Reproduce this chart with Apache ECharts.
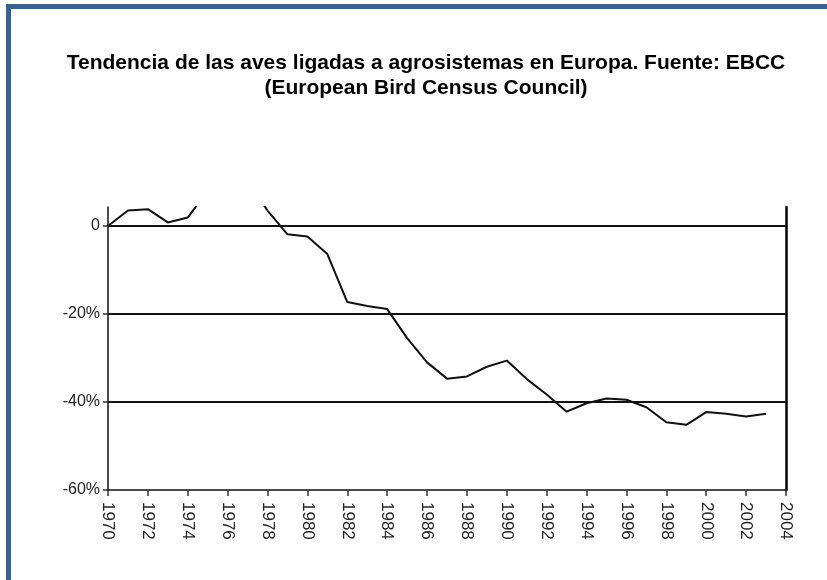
<!DOCTYPE html>
<html>
<head>
<meta charset="utf-8">
<script src="https://cdn.jsdelivr.net/npm/echarts@6/dist/echarts.min.js"></script>
<style>
  html, body { margin: 0; padding: 0; background: #fff; overflow: hidden; }
  #frame {
    position: absolute; left: 6px; top: 4px; width: 900px; height: 700px;
    border-top: 5px solid #3b6192; border-left: 5px solid #3b6192;
  }
  #chart { position: absolute; left: 0; top: 0; width: 827px; height: 580px; }
</style>
</head>
<body>
<div id="frame"></div>
<div id="chart"></div>
<script>
const titleText = 'Tendencia de las aves ligadas a agrosistemas en Europa. Fuente: EBCC\n(European Bird Census Council)';

const years = [
  1970, 1971, 1972, 1973, 1974, 1975, 1976, 1977, 1978, 1979,
  1980, 1981, 1982, 1983, 1984, 1985, 1986, 1987, 1988, 1989,
  1990, 1991, 1992, 1993, 1994, 1995, 1996, 1997, 1998, 1999,
  2000, 2001, 2002, 2003
];

// % change relative to 1970
const trend = [
  0, 3.5, 3.8, 0.8, 1.9, 8, 11, 10, 3.5, -1.9,
  -2.4, -6.4, -17.3, -18.2, -18.9, -25.5, -31, -34.7, -34.2, -32,
  -30.6, -34.8, -38.3, -42.2, -40.3, -39.2, -39.5, -41.2, -44.6, -45.2,
  -42.3, -42.7, -43.3, -42.7
];

const gridValues = [0, -20, -40];
const yTickValues = [-60, -40, -20, 0];

const chart = echarts.init(document.getElementById('chart'));

chart.setOption({
  backgroundColor: 'transparent',
  animation: false,
  title: {
    text: titleText,
    left: 421,
    top: 46,
    textAlign: 'center',
    textStyle: {
      fontFamily: 'Liberation Sans, Arial, sans-serif',
      fontSize: 21,
      fontWeight: 'bold',
      color: '#000',
      lineHeight: 25,
      align: 'center'
    }
  },
  grid: { left: 108, right: 41, top: 207, bottom: 90 },
  xAxis: {
    type: 'value',
    min: 1970,
    max: 2004,
    interval: 2,
    splitLine: { show: false },
    axisLine: { onZero: false, lineStyle: { color: '#111', width: 1.5 } },
    axisTick: { length: 6, lineStyle: { color: '#333', width: 1.5 } },
    axisLabel: {
      rotate: -90,
      margin: 12,
      color: '#222',
      fontSize: 17,
      fontFamily: 'Liberation Sans, Arial, sans-serif',
      formatter: (v) => String(v)
    }
  },
  yAxis: [
    {
      type: 'value',
      min: -60,
      max: 4.3,
      splitLine: { show: false },
      axisLine: { show: true, onZero: false, lineStyle: { color: '#111', width: 1.5 } },
      axisTick: {
        show: true, length: 5, customValues: yTickValues,
        lineStyle: { color: '#333', width: 1.5 }
      },
      axisLabel: {
        customValues: yTickValues,
        margin: 8,
        color: '#222',
        fontSize: 16,
        fontFamily: 'Liberation Sans, Arial, sans-serif',
        formatter: (v) => (v === 0 ? '0' : v + '%')
      }
    },
    {
      type: 'value',
      position: 'right',
      min: -60,
      max: 4.3,
      splitLine: { show: false },
      axisLine: { show: true, onZero: false, lineStyle: { color: '#000', width: 2.5 } },
      axisTick: { show: false },
      axisLabel: { show: false }
    }
  ],
  series: [
    {
      type: 'line',
      data: years.map((y, i) => [y, trend[i]]),
      showSymbol: false,
      clip: true,
      lineStyle: { color: '#111', width: 2 },
      markLine: {
        silent: true,
        symbol: 'none',
        label: { show: false },
        lineStyle: { color: '#111', width: 2, type: 'solid' },
        data: gridValues.map((v) => ({ yAxis: v }))
      },
      z: 3
    }
  ]
});
</script>
</body>
</html>
